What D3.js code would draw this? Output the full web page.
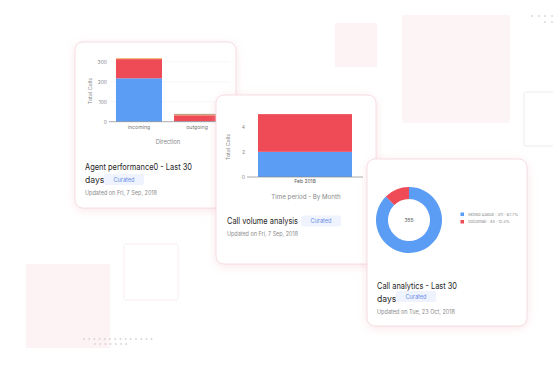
<!DOCTYPE html>
<html><head><meta charset="utf-8">
<script src="https://cdn.jsdelivr.net/npm/d3@7"></script>
<style>
html,body{margin:0;padding:0;background:#fff;}
svg{display:block;font-family:Inter,"Open Sans",sans-serif;}
</style></head>
<body><svg id="c" width="553" height="386"></svg>
<script>
// ---- data ----
const agentCategories = ["incoming", "outgoing"];
const agentAnswered = [217, 2];
const agentMissed = [96, 30];
const agentOther = [4, 3];
const agentTransferred = [0, 4];
const agentTicks = [0, 100, 200, 300];

const volumeCategories = ["Feb 2018"];
const volumeAnswered = [2];
const volumeMissed = [3];
const volumeTicks = [0, 2, 4];

const queueNames = ["Skilled Queue", "Voicemail"];
const queueValues = [311, 44];
const queuePercents = ["87.7%", "12.3%"];

const titles = ["Agent performance0 - Last 30", "Call volume analysis", "Call analytics - Last 30"];
const updated = ["Updated on Fri, 7 Sep, 2018", "Updated on Fri, 7 Sep, 2018", "Updated on Tue, 23 Oct, 2018"];

const BLUE = "#5b9cf5", RED = "#ef4b57", ORANGE = "#f0a046", BROWN = "#a9826c";
const svg = d3.select("#c");
const defs = svg.append("defs");
const f = defs.append("filter").attr("id", "sh").attr("x", "-20%").attr("y", "-20%").attr("width", "140%").attr("height", "140%");
f.append("feDropShadow").attr("dx", 0).attr("dy", 2).attr("stdDeviation", 5).attr("flood-color", "#f3b9c2").attr("flood-opacity", 0.35);

// ---- decorations ----
const deco = svg.append("g");
deco.append("rect").attr("x", 335).attr("y", 23).attr("width", 42).attr("height", 44).attr("fill", "#fdf2f4");
deco.append("rect").attr("x", 402).attr("y", 15).attr("width", 108).attr("height", 108).attr("fill", "#fdf4f6");
deco.append("rect").attr("x", 26).attr("y", 264).attr("width", 84).attr("height", 84).attr("fill", "#fdf2f4");
deco.append("rect").attr("x", 124).attr("y", 244).attr("width", 54).attr("height", 56).attr("rx", 2).attr("fill", "#fff").attr("stroke", "#f7eef0").attr("stroke-width", 1);
deco.append("rect").attr("x", 524).attr("y", 92).attr("width", 40).attr("height", 54).attr("rx", 2).attr("fill", "#fff").attr("stroke", "#f1eaec").attr("stroke-width", 1);
const dotsA = d3.range(14).map(i => [84 + i * 5.2, 339]).concat(d3.range(7).map(i => [95 + i * 5.2, 344]));
deco.selectAll("circle.da").data(dotsA).join("circle").attr("cx", d => d[0]).attr("cy", d => d[1]).attr("r", 0.9).attr("fill", "#d8d4d6");
const dotsB = [[532, 16], [539, 16], [545, 16], [552, 16], [545, 22], [552, 22]];
deco.selectAll("circle.db").data(dotsB).join("circle").attr("cx", d => d[0]).attr("cy", d => d[1]).attr("r", 0.9).attr("fill", "#d8d4d6");

function card(x, y, w, h) {
  const g = svg.append("g");
  g.append("rect").attr("x", x).attr("y", y).attr("width", w).attr("height", h).attr("rx", 8)
    .attr("fill", "#fff").attr("stroke", "#f2d5da").attr("stroke-width", 0.8).attr("filter", "url(#sh)");
  return g;
}
function footer(g, x, titleY, lines, titleLen, badgeX, badgeY, upd, updLen) {
  lines.forEach((t, i) => {
    const tx = g.append("text").attr("x", x).attr("y", titleY + i * 12.5).attr("font-size", 8.6).attr("fill", "#262626")
      .attr("font-weight", 400).text(t);
    if (i === 0 && titleLen) tx.attr("textLength", titleLen).attr("lengthAdjust", "spacingAndGlyphs");
  });
  g.append("rect").attr("x", badgeX).attr("y", badgeY).attr("width", 40).attr("height", 11).attr("rx", 2).attr("fill", "#eef3fd");
  g.append("text").attr("x", badgeX + 20).attr("y", badgeY + 7.6).attr("text-anchor", "middle").attr("font-size", 5.6).attr("fill", "#6b8fe6").text("Curated");
  const last = titleY + (lines.length - 1) * 12.5;
  g.append("text").attr("x", x).attr("y", last + 12.5).attr("font-size", 5.6).attr("fill", "#8a8a8a").text(upd)
    .attr("textLength", updLen).attr("lengthAdjust", "spacingAndGlyphs");
}

// ---- card 1: agent performance ----
{
  const g = card(75, 42, 161, 166);
  const y = d3.scaleLinear().domain([0, 300]).range([121.7, 61.7]);
  const x = d3.scaleBand().domain(agentCategories).range([110, 226]).paddingInner(0.207).paddingOuter(0.103);
  g.selectAll("line.grid").data(agentTicks.slice(1)).join("line").attr("x1", 110).attr("x2", 230)
    .attr("y1", d => y(d)).attr("y2", d => y(d)).attr("stroke", "#f1f1f1").attr("stroke-width", 0.6);
  const stack = d3.stack().keys([0, 1, 2, 3])(agentCategories.map((c, i) => [agentAnswered[i], agentMissed[i], agentOther[i], agentTransferred[i]]));
  const cols = [BLUE, RED, ORANGE, BROWN];
  stack.forEach((s, k) => {
    g.selectAll(null).data(s).join("rect").attr("x", (d, i) => x(agentCategories[i])).attr("width", x.bandwidth())
      .attr("y", d => y(d[1])).attr("height", d => Math.max(0, y(d[0]) - y(d[1]))).attr("fill", cols[k]);
  });
  const ax = g.append("g").attr("transform", "translate(108,0)").call(d3.axisLeft(y).tickValues(agentTicks).tickSize(0).tickPadding(1).tickFormat(d3.format("d")));
  ax.select(".domain").remove();
  ax.selectAll("text").attr("font-size", 5).attr("fill", "#888").attr("font-family", "Inter,sans-serif");
  g.append("line").attr("x1", 109).attr("x2", 236).attr("y1", y(0)).attr("y2", y(0)).attr("stroke", "#888").attr("stroke-width", 0.7);
  const bx = g.append("g").attr("transform", `translate(0,${y(0)})`).call(d3.axisBottom(x).tickSize(0).tickPadding(4));
  bx.select(".domain").remove();
  bx.selectAll("text").attr("font-size", 5.2).attr("fill", "#777").attr("font-family", "Inter,sans-serif");
  g.append("text").attr("x", 168).attr("y", 144).attr("text-anchor", "middle").attr("font-size", 5.8).attr("fill", "#888").text("Direction");
  g.append("text").attr("transform", "translate(92,91) rotate(-90)").attr("text-anchor", "middle").attr("font-size", 5.4).attr("fill", "#888").text("Total Calls");
  footer(g, 85, 170, [titles[0], "days"], 107, 104, 174, updated[0], 72);
}

// ---- card 2: call volume ----
{
  const g = card(216, 95, 160, 169);
  const y = d3.scaleLinear().domain([0, 4]).range([177, 126.7]);
  const x = d3.scaleBand().domain(volumeCategories).range([258, 352]).padding(0);
  const stack = d3.stack().keys([0, 1])(volumeCategories.map((c, i) => [volumeAnswered[i], volumeMissed[i]]));
  const cols = [BLUE, RED];
  stack.forEach((s, k) => {
    g.selectAll(null).data(s).join("rect").attr("x", (d, i) => x(volumeCategories[i])).attr("width", x.bandwidth())
      .attr("y", d => y(d[1])).attr("height", d => y(d[0]) - y(d[1])).attr("fill", cols[k]);
  });
  const ax = g.append("g").attr("transform", "translate(246,0)").call(d3.axisLeft(y).tickValues(volumeTicks).tickSize(0).tickPadding(1).tickFormat(d3.format("d")));
  ax.select(".domain").remove();
  ax.selectAll("text").attr("font-size", 5).attr("fill", "#888").attr("font-family", "Inter,sans-serif");
  g.append("line").attr("x1", 247).attr("x2", 363).attr("y1", y(0)).attr("y2", y(0)).attr("stroke", "#888").attr("stroke-width", 0.7);
  const bx = g.append("g").attr("transform", `translate(0,${y(0)})`).call(d3.axisBottom(x).tickSize(0).tickPadding(2));
  bx.select(".domain").remove();
  bx.selectAll("text").attr("font-size", 5).attr("fill", "#555").attr("font-family", "Inter,sans-serif");
  g.append("text").attr("x", 306).attr("y", 199).attr("text-anchor", "middle").attr("font-size", 6.2).attr("fill", "#888").text("Time period - By Month");
  g.append("text").attr("transform", "translate(230,147) rotate(-90)").attr("text-anchor", "middle").attr("font-size", 5.4).attr("fill", "#888").text("Total Calls");
  footer(g, 227, 223.5, [titles[1]], 71, 301, 215.5, updated[1], 71);
}

// ---- card 3: call analytics ----
{
  const g = card(367, 159, 160, 167);
  const pie = d3.pie().sort(null)(queueValues);
  const arc = d3.arc().innerRadius(21).outerRadius(33);
  const cols = [BLUE, RED];
  g.append("g").attr("transform", "translate(409,220)").selectAll("path").data(pie).join("path")
    .attr("d", arc).attr("fill", (d, i) => cols[i]);
  g.append("text").attr("x", 409).attr("y", 222).attr("text-anchor", "middle").attr("font-size", 5).attr("fill", "#555").text(d3.sum(queueValues));
  queueNames.forEach((n, i) => {
    g.append("rect").attr("x", 460.5).attr("y", 212.5 + i * 7.5).attr("width", 3.5).attr("height", 3.5).attr("fill", cols[i]);
    g.append("text").attr("x", 468).attr("y", 215.8 + i * 7.5).attr("font-size", 4).attr("fill", "#888")
      .text(`${n} · ${queueValues[i]} · ${queuePercents[i]}`);
  });
  footer(g, 377, 289, [titles[2], "days"], 80, 396, 291, updated[2], 78);
}
</script></body></html>
